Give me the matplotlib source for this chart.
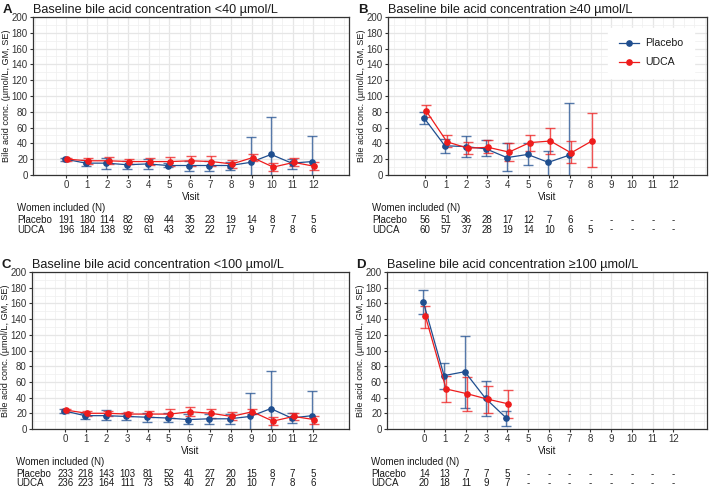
import matplotlib
matplotlib.use('Agg')
import matplotlib.pyplot as plt
import numpy as np

plt.rcParams['font.family'] = ['Liberation Sans', 'DejaVu Sans']

visits = list(range(13))

# A: baseline < 40
a_pla = [20, 15, 15, 13, 14, 12, 12, 12, 12, 16, 26, 15, 17]
a_pla_lo = [18, 11, 8, 8, 8, 10, 5, 5, 6, -10, -20, 8, -10]
a_pla_hi = [22, 19, 22, 18, 20, 15, 18, 18, 17, 48, 74, 20, 49]
a_udc = [20, 18, 18, 17, 17, 17, 18, 17, 14, 22, 10, 16, 11]
a_udc_lo = [18, 14, 14, 14, 13, 11, 12, 11, 9, 18, 5, 11, 6]
a_udc_hi = [22, 21, 23, 20, 22, 23, 24, 24, 19, 26, 15, 22, 16]
a_n_pla = ['191', '180', '114', '82', '69', '44', '35', '23', '19', '14', '8', '7', '5']
a_n_udc = ['196', '184', '138', '92', '61', '43', '32', '22', '17', '9', '7', '8', '6']

# B: baseline >= 40
b_pla = [72, 37, 36, 33, 22, 26, 16, 25]
b_pla_lo = [65, 28, 23, 24, 5, 13, -5, -40]
b_pla_hi = [80, 45, 49, 44, 40, 40, 31, 91]
b_udc = [81, 42, 34, 35, 29, 41, 43, 28, 43]
b_udc_lo = [74, 35, 26, 28, 18, 31, 26, 15, 10]
b_udc_hi = [89, 50, 42, 44, 41, 51, 59, 43, 78]
b_n_pla = ['56', '51', '36', '28', '17', '12', '7', '6', '-', '-', '-', '-', '-']
b_n_udc = ['60', '57', '37', '28', '19', '14', '10', '6', '5', '-', '-', '-', '-']

# C: baseline < 100
c_pla = [23, 17, 17, 16, 15, 14, 12, 13, 13, 16, 26, 14, 17]
c_pla_lo = [21, 13, 11, 11, 9, 9, 6, 7, 7, -15, -20, 8, -15]
c_pla_hi = [25, 21, 24, 21, 21, 20, 19, 19, 19, 46, 74, 20, 49]
c_udc = [24, 20, 20, 19, 19, 19, 22, 20, 16, 22, 10, 16, 12]
c_udc_lo = [22, 17, 17, 16, 15, 14, 16, 14, 11, 19, 5, 11, 7]
c_udc_hi = [26, 23, 23, 22, 23, 25, 28, 26, 22, 26, 15, 21, 17]
c_n_pla = ['233', '218', '143', '103', '81', '52', '41', '27', '20', '15', '8', '7', '5']
c_n_udc = ['236', '223', '164', '111', '73', '53', '40', '27', '20', '10', '7', '8', '6']

# D: baseline >= 100
d_pla = [162, 68, 73, 39, 14]
d_pla_lo = [147, 51, 27, 17, 4]
d_pla_hi = [177, 84, 119, 61, 23]
d_udc = [144, 51, 45, 38, 32]
d_udc_lo = [129, 35, 23, 20, 14]
d_udc_hi = [157, 68, 66, 55, 50]
d_n_pla = ['14', '13', '7', '7', '5', '-', '-', '-', '-', '-', '-', '-', '-']
d_n_udc = ['20', '18', '11', '9', '7', '-', '-', '-', '-', '-', '-', '-', '-']

BLUE = '#1f4e8f'
RED = '#ee1c1c'
TXT = '#1a1a1a'


def draw_series(ax, mean, lo, hi, color, shift, label):
    x = np.array(visits[:len(mean)]) + shift
    mean = np.array(mean, float)
    err = [mean - np.array(lo), np.array(hi) - mean]
    ax.errorbar(x, mean, yerr=err, fmt='none', ecolor=color, alpha=0.75,
                elinewidth=1.0, capsize=3.6, capthick=1.0, zorder=3)
    ax.plot(x, mean, '-o', color=color, lw=0.9, ms=3.8, label=label, zorder=4)


def panel(rect, letter, title, data, n_pla, n_udc, xlim, legend=False):
    ax = fig.add_axes(rect)
    pla, pla_lo, pla_hi, udc, udc_lo, udc_hi = data
    draw_series(ax, pla, pla_lo, pla_hi, BLUE, -0.05, 'Placebo')
    draw_series(ax, udc, udc_lo, udc_hi, RED, 0.05, 'UDCA')

    ax.set_xlim(*xlim)
    ax.set_ylim(0, 200)
    ax.set_xticks(visits)
    ax.set_xticks(np.arange(-1.5, 14, 0.5), minor=True)
    ax.set_yticks(range(0, 201, 20))
    ax.set_yticks(range(10, 200, 20), minor=True)
    ax.grid(which='major', color='#e6e6e6', lw=0.9, zorder=0)
    ax.grid(which='minor', color='#efefef', lw=0.5, zorder=0)
    ax.set_axisbelow(True)
    ax.tick_params(which='major', labelsize=7, length=2.5, width=0.8,
                   color='#333333', labelcolor='#333333', pad=1.2)
    ax.tick_params(which='minor', length=0)
    for s in ax.spines.values():
        s.set_color('#333333')
        s.set_linewidth(0.9)
    ax.set_xlabel('Visit', fontsize=7, color=TXT, labelpad=1)
    ax.set_ylabel('Bile acid conc. (\u00b5mol/L, GM, SE)', fontsize=6.6,
                  color=TXT, labelpad=0.5)

    ax.text(0, 1.027, title, transform=ax.transAxes, fontsize=9.1,
            color=TXT, va='baseline', ha='left')
    ax.text(-0.095, 1.027, letter, transform=ax.transAxes, fontsize=9.5,
            fontweight='bold', color=TXT, va='baseline', ha='left')

    # numbers at risk table
    tr = ax.get_xaxis_transform()
    ax.text(-0.05, -0.21, 'Women included (N)', transform=ax.transAxes,
            fontsize=7, color=TXT, va='center', ha='left')
    ax.text(-0.05, -0.285, 'Placebo', transform=ax.transAxes,
            fontsize=7, color=TXT, va='center', ha='left')
    ax.text(-0.05, -0.345, 'UDCA', transform=ax.transAxes,
            fontsize=7, color=TXT, va='center', ha='left')
    for v, a, b in zip(visits, n_pla, n_udc):
        ax.text(v, -0.285, a, transform=tr, fontsize=7, color=TXT,
                ha='center', va='center')
        ax.text(v, -0.345, b, transform=tr, fontsize=7, color=TXT,
                ha='center', va='center')

    if legend:
        leg = ax.legend(loc='upper right', bbox_to_anchor=(0.975, 0.965),
                        fontsize=7.6, frameon=True, fancybox=False,
                        edgecolor='white', framealpha=1, handlelength=1.9,
                        labelspacing=0.85, borderpad=1.0, handletextpad=0.6)
        for t in leg.get_texts():
            t.set_color(TXT)
    return ax


fig = plt.figure(figsize=(7.09, 4.88), dpi=100)

panel([0.0465, 0.6414, 0.4457, 0.3238], 'A',
      'Baseline bile acid concentration <40 \u00b5mol/L',
      (a_pla, a_pla_lo, a_pla_hi, a_udc, a_udc_lo, a_udc_hi),
      a_n_pla, a_n_udc, (-1.62, 13.73))
panel([0.5472, 0.6414, 0.450, 0.3238], 'B',
      'Baseline bile acid concentration \u226540 \u00b5mol/L',
      (b_pla, b_pla_lo, b_pla_hi, b_udc, b_udc_lo, b_udc_hi),
      b_n_pla, b_n_udc, (-1.8, 13.62), legend=True)
panel([0.0451, 0.1209, 0.4470, 0.3217], 'C',
      'Baseline bile acid concentration <100 \u00b5mol/L',
      (c_pla, c_pla_lo, c_pla_hi, c_udc, c_udc_lo, c_udc_hi),
      c_n_pla, c_n_udc, (-1.62, 13.73))
panel([0.5458, 0.1209, 0.4513, 0.3217], 'D',
      'Baseline bile acid concentration \u2265100 \u00b5mol/L',
      (d_pla, d_pla_lo, d_pla_hi, d_udc, d_udc_lo, d_udc_hi),
      d_n_pla, d_n_udc, (-1.8, 13.62))

fig.savefig('out.png', dpi=100)
